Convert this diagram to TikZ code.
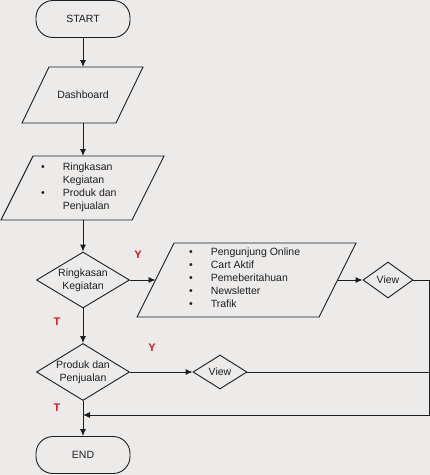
\documentclass[tikz,border=0pt]{standalone}
\usepackage{fontspec}
\setmainfont{Liberation Sans}
\usetikzlibrary{shapes.geometric,arrows.meta}
\definecolor{bg}{RGB}{237,235,234}
\definecolor{ln}{RGB}{30,30,30}
\definecolor{lblred}{RGB}{215,25,25}
\begin{document}
\begin{tikzpicture}[x=1pt,y=-1pt,
  every node/.style={font=\fontsize{10.5}{13}\selectfont, text=ln},
  shapeline/.style={draw=ln, line width=0.9pt},
  term/.style={shapeline, rectangle, rounded corners=17pt, minimum width=94pt, minimum height=37pt, inner sep=0pt},
  dia/.style={shapeline, diamond, inner sep=0pt},
  txt/.style={inner sep=0pt, align=center},
  lst/.style={inner sep=0pt, anchor=west},
  conn/.style={draw=ln, line width=0.9pt},
  arr/.style={conn, -{Latex[length=7pt,width=6pt]}},
  yt/.style={font=\fontsize{11}{13}\selectfont\bfseries, text=lblred, inner sep=0pt}
]
\fill[bg] (0,0) rectangle (430,475);
\useasboundingbox (0,0) rectangle (430,475);

% terminals
\node[term] (start) at (83,19) {START};
\node[term] (end) at (83,455) {END};

% Dashboard parallelogram
\coordinate (p1n) at (83,67);
\coordinate (p1s) at (83,123);
\draw[shapeline] (49,67) -- (143,67) -- (116,123) -- (22,123) -- cycle;
\node[txt] (dash) at (83,95) {Dashboard};

% second parallelogram
\coordinate (p2n) at (83,156);
\coordinate (p2s) at (83,220);
\draw[shapeline] (33,156) -- (164,156) -- (132,220) -- (1,220) -- cycle;
\node[lst] (list2) at (41,187) {\begin{tabular}{@{}l@{\hspace{18pt}}l@{}}\textbullet & Ringkasan\\ & Kegiatan\\ \textbullet & Produk dan\\ & Penjualan\end{tabular}};

% decision 1
\node[dia, minimum width=93pt, minimum height=56pt] (d1) at (83,280) {};
\node[txt] (d1t) at (83,280) {Ringkasan\\Kegiatan};

% third parallelogram
\coordinate (p3w) at (155.5,280);
\coordinate (p3e) at (337.5,280);
\draw[shapeline] (174,243) -- (356,243) -- (319,317) -- (137,317) -- cycle;
\node[lst] (list3) at (189,279) {\begin{tabular}{@{}l@{\hspace{18pt}}l@{}}\textbullet & Pengunjung Online\\ \textbullet & Cart Aktif\\ \textbullet & Pemeberitahuan\\ \textbullet & Newsletter\\ \textbullet & Trafik\end{tabular}};

% view 1
\node[dia, minimum width=50pt, minimum height=36pt] (v1) at (388,280) {};
\node[txt] (v1t) at (388,280) {View};

% decision 2
\node[dia, minimum width=93pt, minimum height=57pt] (d2) at (83,372) {};
\node[txt] (d2t) at (83,372) {Produk dan\\Penjualan};

% view 2
\node[dia, minimum width=54pt, minimum height=34pt] (v2) at (220,372) {};
\node[txt] (v2t) at (220,372) {View};

% connectors
\coordinate (rt) at (429,280);
\coordinate (rm) at (429,372);
\coordinate (rb) at (429,415);
\coordinate (jn) at (83,415);

\draw[arr] (start.south) -- (p1n);
\draw[arr] (p1s) -- (p2n);
\draw[arr] (p2s) -- (d1.north);
\draw[arr] (d1.east) -- (p3w);
\draw[arr] (p3e) -- (v1.west);
\draw[arr] (d1.south) -- (d2.north);
\draw[arr] (d2.east) -- (v2.west);
\draw[conn] (v2.east) -- (rm);
\draw[arr] (v1.east) -- (rt) -- (rb) -- (jn);
\draw[arr] (d2.south) -- (end.north);

% labels
\node[yt] (y1) at (138,255) {Y};
\node[yt] (t1) at (57,322) {T};
\node[yt] (y2) at (152,348) {Y};
\node[yt] (t2) at (57,408) {T};
\end{tikzpicture}
\end{document}
